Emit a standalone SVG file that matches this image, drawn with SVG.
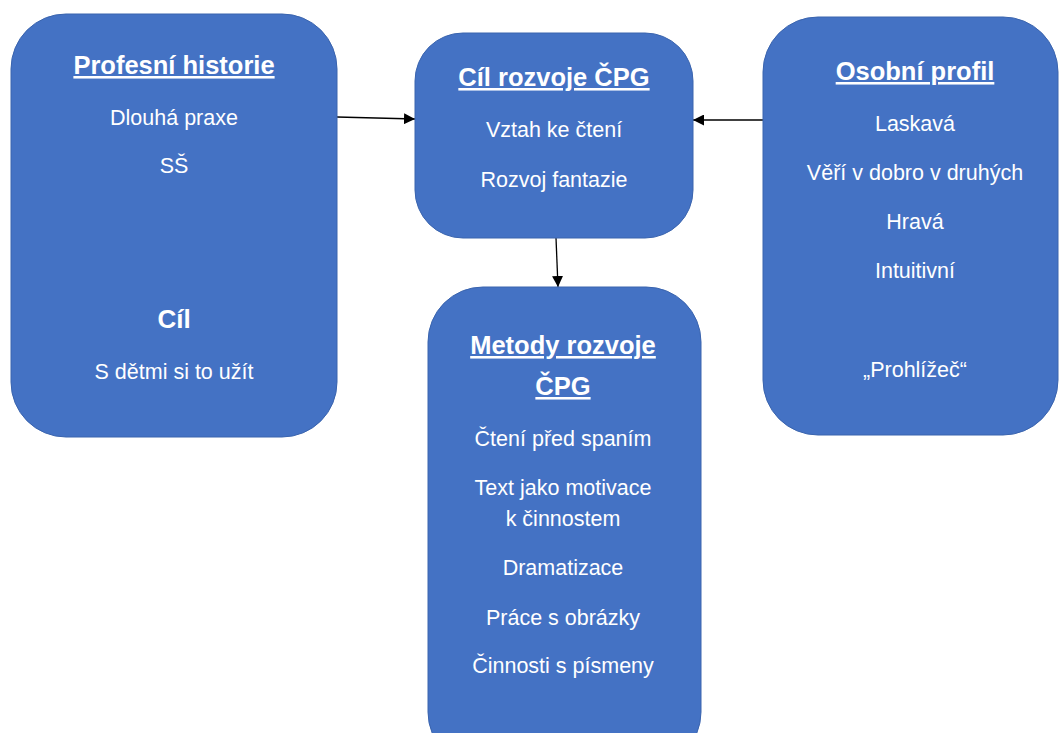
<svg xmlns="http://www.w3.org/2000/svg" width="1060" height="733" viewBox="0 0 1060 733">
<style>
.box{fill:#4472C4;stroke:#3a64ae;stroke-width:1}
text{font-family:"Liberation Sans",Arial,sans-serif;fill:#fff;text-anchor:middle}
.t{font-size:25.5px;font-weight:bold;text-decoration:underline}
.h{font-size:26px;font-weight:bold}
.b{font-size:21.5px}
.c{stroke:#000;stroke-width:1.3;fill:none;marker-end:url(#arr)}
</style>
<defs>
<marker id="arr" viewBox="0 0 10 10" refX="10" refY="5" markerWidth="11" markerHeight="11" markerUnits="userSpaceOnUse" orient="auto">
<path d="M0,0 L10,5 L0,10 z" fill="#000"/>
</marker>
</defs>
<rect width="1060" height="733" fill="#fff"/>
<g id="connectors">
<line class="c" x1="337" y1="117" x2="415" y2="119"/>
<line class="c" x1="763" y1="120" x2="693" y2="120"/>
<line class="c" x1="556" y1="238" x2="558" y2="287"/>
</g>
<g id="profesni">
<rect class="box" x="11" y="14" width="326" height="423" rx="55"/>
<text class="t" x="174" y="74">Profesní historie</text>
<text class="b" x="174" y="125">Dlouhá praxe</text>
<text class="b" x="174" y="173">SŠ</text>
<text class="h" x="174" y="328">Cíl</text>
<text class="b" x="174" y="379">S dětmi si to užít</text>
</g>
<g id="cil">
<rect class="box" x="415" y="33" width="278" height="205" rx="48"/>
<text class="t" x="554" y="86">Cíl rozvoje ČPG</text>
<text class="b" x="554" y="137">Vztah ke čtení</text>
<text class="b" x="554" y="187">Rozvoj fantazie</text>
</g>
<g id="osobni">
<rect class="box" x="763" y="17" width="295" height="418" rx="55"/>
<text class="t" x="915" y="80">Osobní profil</text>
<text class="b" x="915" y="131">Laskavá</text>
<text class="b" x="915" y="180">Věří v dobro v druhých</text>
<text class="b" x="915" y="229">Hravá</text>
<text class="b" x="915" y="278">Intuitivní</text>
<text class="b" x="915" y="377">„Prohlížeč“</text>
</g>
<g id="metody">
<rect class="box" x="428" y="287" width="273" height="480" rx="55"/>
<text class="t" x="563" y="354">Metody rozvoje</text>
<text class="t" x="563" y="395">ČPG</text>
<text class="b" x="563" y="446">Čtení před spaním</text>
<text class="b" x="563" y="495">Text jako motivace</text>
<text class="b" x="563" y="526">k činnostem</text>
<text class="b" x="563" y="575">Dramatizace</text>
<text class="b" x="563" y="625">Práce s obrázky</text>
<text class="b" x="563" y="673">Činnosti s písmeny</text>
</g>
</svg>
